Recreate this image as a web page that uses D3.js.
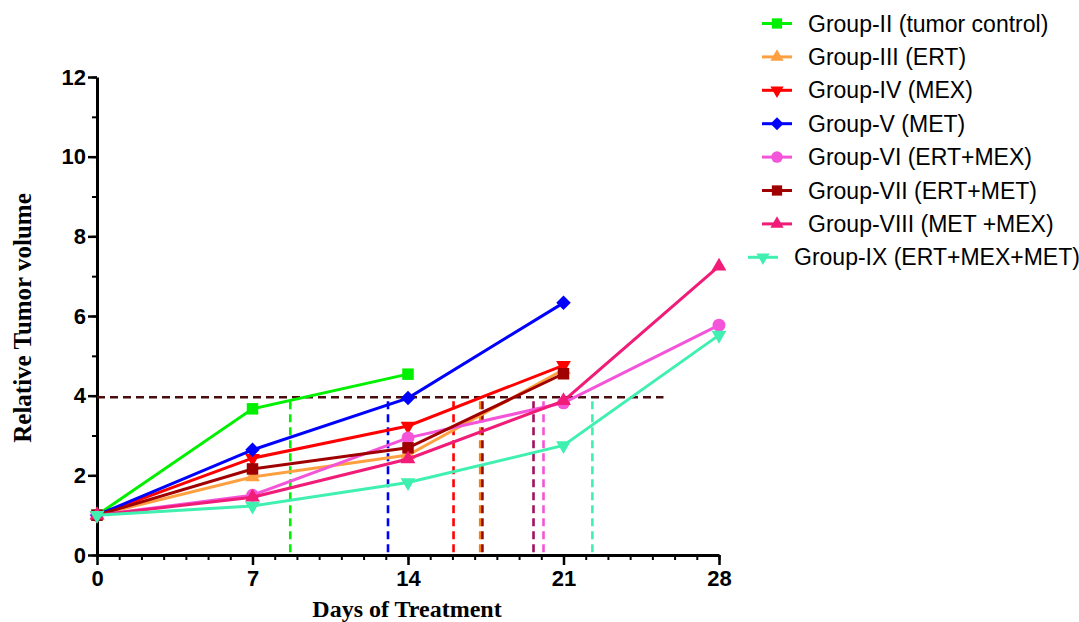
<!DOCTYPE html>
<html>
<head>
<meta charset="utf-8">
<script src="https://cdn.jsdelivr.net/npm/d3@7"></script>
<style>
  html, body { margin: 0; padding: 0; background: #fff; }
  svg { display: block; }
</style>
</head>
<body>
<svg id="chart" width="1079" height="622"></svg>
<script>
// Measurement days (x) and relative tumour volume per group (y)
const days = [0, 7, 14, 21, 28];
const groupII   = [1.00, 3.67, 4.54];
const groupIII  = [1.00, 1.96, 2.51, 4.65];
const groupIV   = [1.00, 2.43, 3.24, 4.76];
const groupV    = [1.00, 2.64, 3.94, 6.33];
const groupVI   = [1.00, 1.50, 2.94, 3.82, 5.77];
const groupVII  = [1.00, 2.16, 2.69, 4.55];
const groupVIII = [1.00, 1.45, 2.41, 3.87, 7.25];
const groupIX   = [1.00, 1.23, 1.82, 2.75, 5.52];

const groupNames = [
  "Group-II (tumor control)", "Group-III (ERT)", "Group-IV (MEX)", "Group-V (MET)",
  "Group-VI (ERT+MEX)", "Group-VII (ERT+MET)", "Group-VIII (MET +MEX)", "Group-IX (ERT+MEX+MET)"
];
const groupColors = ["#00f000", "#ffa040", "#ff0000", "#0000ff", "#f455d8", "#a00000", "#f01c78", "#40f0b0"];
const groupSymbols = ["square", "triangleUp", "triangleDown", "diamond", "circle", "square", "triangleUp", "triangleDown"];
const groupValues = [groupII, groupIII, groupIV, groupV, groupVI, groupVII, groupVIII, groupIX];

// Doubling threshold (relative volume) and the day each group reaches it
const threshold = 3.96;
const thresholdEndDay = 25.5;
const crossingDays   = [8.7, 13.1, 16.05, 17.25, 17.35, 19.65, 20.1, 22.3];
const crossingColors = ["#00f000", "#0000ff", "#ff0000", "#ff8000", "#8b0a0a", "#a0125c", "#f455d8", "#40f0b0"];

const xTicks = [0, 7, 14, 21, 28];
const yTicks = [0, 2, 4, 6, 8, 10, 12];

const svg = d3.select("#chart");
const x = d3.scaleLinear().domain([0, 28]).range([97, 719]);
const y = d3.scaleLinear().domain([0, 12]).range([555, 77]);

const tickFont = "'Liberation Sans', Arial, sans-serif";
const titleFont = "'Liberation Serif', 'Times New Roman', serif";

// Minor ticks (every unit)
svg.append("g")
  .attr("transform", `translate(0,${y(0)})`)
  .call(d3.axisBottom(x).tickValues(d3.range(0, 29)).tickSize(5).tickSizeOuter(0).tickFormat(""))
  .call(g => g.select(".domain").remove())
  .call(g => g.selectAll("line").attr("stroke", "#000").attr("stroke-width", 2));
svg.append("g")
  .attr("transform", `translate(${x(0)},0)`)
  .call(d3.axisLeft(y).tickValues(d3.range(0, 13)).tickSize(5).tickSizeOuter(0).tickFormat(""))
  .call(g => g.select(".domain").remove())
  .call(g => g.selectAll("line").attr("stroke", "#000").attr("stroke-width", 2));

// Major axes
const xAxis = svg.append("g")
  .attr("transform", `translate(0,${y(0)})`)
  .call(d3.axisBottom(x).tickValues(xTicks).tickSize(10).tickSizeOuter(0).tickPadding(5));
const yAxis = svg.append("g")
  .attr("transform", `translate(${x(0)},0)`)
  .call(d3.axisLeft(y).tickValues(yTicks).tickSize(9).tickSizeOuter(0).tickPadding(2));
[xAxis, yAxis].forEach(a => {
  a.select(".domain").attr("stroke", "#000").attr("stroke-width", 3);
  a.selectAll(".tick line").attr("stroke", "#000").attr("stroke-width", 2.5);
  a.selectAll(".tick text")
    .attr("fill", "#000")
    .style("font-family", tickFont)
    .style("font-weight", "bold")
    .style("font-size", "22px");
});

// Axis titles
svg.append("text")
  .attr("x", 407).attr("y", 617)
  .attr("text-anchor", "middle")
  .style("font-family", titleFont).style("font-weight", "bold").style("font-size", "24px")
  .text("Days of Treatment");
svg.append("text")
  .attr("transform", "translate(31,318) rotate(-90)")
  .attr("text-anchor", "middle")
  .style("font-family", titleFont).style("font-weight", "bold").style("font-size", "25px")
  .text("Relative Tumor volume");

// Reference lines
svg.append("line")
  .attr("x1", x(0)).attr("x2", x(thresholdEndDay))
  .attr("y1", y(threshold)).attr("y2", y(threshold))
  .attr("stroke", "#4a0c0c").attr("stroke-width", 2.6).attr("stroke-dasharray", "8,5");
svg.append("g").selectAll("line")
  .data(crossingDays)
  .join("line")
  .attr("x1", d => x(d)).attr("x2", d => x(d))
  .attr("y1", y(threshold) + 4).attr("y2", y(0))
  .attr("stroke", (d, i) => crossingColors[i])
  .attr("stroke-width", 2.6)
  .attr("stroke-dasharray", "8,5");

// Marker path generator
function symbolPath(kind, scale) {
  const s = scale || 1;
  switch (kind) {
    case "square": return { d: d3.symbol(d3.symbolSquare, 132 * s)(), rot: 0 };
    case "triangleUp": return { d: d3.symbol(d3.symbolTriangle, 95 * s)(), rot: 0 };
    case "triangleDown": return { d: d3.symbol(d3.symbolTriangle, 95 * s)(), rot: 180 };
    case "diamond": return { d: d3.symbol(d3.symbolSquare, 105 * s)(), rot: 45 };
    case "circle": return { d: d3.symbol(d3.symbolCircle, 130 * s)(), rot: 0 };
  }
}

const line = d3.line().x((d, i) => x(days[i])).y(d => y(d));

// Series lines and markers
groupValues.forEach((vals, gi) => {
  const g = svg.append("g");
  g.append("path")
    .attr("d", line(vals))
    .attr("fill", "none")
    .attr("stroke", groupColors[gi])
    .attr("stroke-width", 3);
  const sym = symbolPath(groupSymbols[gi]);
  g.selectAll("path.m")
    .data(vals)
    .join("path")
    .attr("class", "m")
    .attr("d", sym.d)
    .attr("transform", (d, i) => `translate(${x(days[i])},${y(d)}) rotate(${sym.rot})`)
    .attr("fill", groupColors[gi]);
});

// Legend
const legendRowY = groupNames.map((n, i) => 23.5 + i * 33.4);
const legend = svg.append("g");
groupNames.forEach((name, i) => {
  const last = i === groupNames.length - 1;
  const x0 = last ? 748 : 762;
  const row = legend.append("g").attr("transform", `translate(${x0},${legendRowY[i]})`);
  row.append("line").attr("x1", 0).attr("x2", 30).attr("y1", 0).attr("y2", 0)
    .attr("stroke", groupColors[i]).attr("stroke-width", 3);
  const sym = symbolPath(groupSymbols[i], 0.8);
  row.append("path").attr("d", sym.d)
    .attr("transform", `translate(15,0) rotate(${sym.rot})`)
    .attr("fill", groupColors[i]);
  row.append("text")
    .attr("x", 46).attr("y", 8)
    .style("font-family", tickFont).style("font-size", "23px")
    .attr("fill", "#000")
    .text(name);
});
</script>
</body>
</html>
